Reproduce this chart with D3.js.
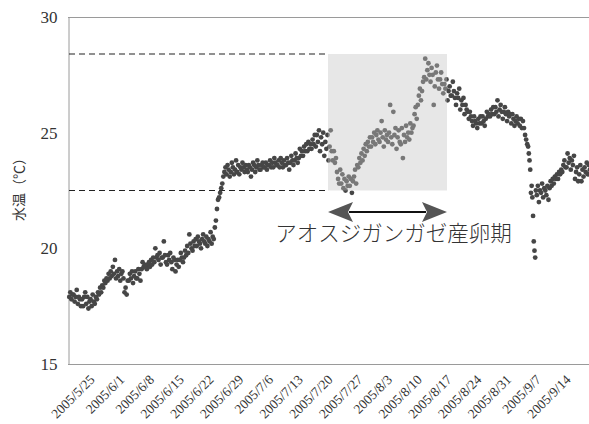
<!DOCTYPE html>
<html>
<head>
<meta charset="utf-8">
<script src="https://cdn.jsdelivr.net/npm/d3@7"></script>
<style>
  html, body { margin: 0; padding: 0; background: #fff; }
  svg { display: block; }
</style>
</head>
<body>
<svg id="chart" width="589" height="424"></svg>
<script>
// Water temperature readings, four per day, starting 2005/5/20
const firstDay = "2005-05-20";
const dailyTemps = [
  [17.9, 18.1, 17.8, 18.0], [18.0, 17.7, 17.9, 18.2], [17.6, 17.9, 17.8, 17.5],
  [17.8, 17.5, 17.9, 18.1], [17.6, 17.9, 17.4, 17.7],
  // 5/25
  [17.8, 17.5, 18.0, 17.7], [17.6, 17.9, 17.8, 18.1], [18.0, 18.3, 18.1, 18.4],
  [18.3, 18.6, 18.5, 18.7], [18.6, 18.9, 18.7, 19.0], [18.8, 19.2, 18.9, 19.5],
  [18.7, 19.0, 18.8, 19.1],
  // 6/1
  [18.6, 18.9, 19.0, 18.7], [18.1, 18.3, 18.0, 18.6], [18.6, 18.9, 18.7, 19.0],
  [18.5, 18.8, 19.0, 18.7], [18.7, 19.1, 18.9, 18.6], [19.1, 19.4, 19.2, 19.3],
  [19.2, 19.1, 19.3, 19.4],
  // 6/8
  [19.2, 19.5, 19.3, 19.6], [19.4, 20.0, 19.6, 19.7], [19.5, 19.8, 19.3, 19.6],
  [19.6, 20.3, 19.7, 19.4], [19.3, 19.7, 19.5, 19.8], [19.4, 19.1, 19.6, 19.5],
  [19.0, 19.3, 19.5, 19.2],
  // 6/15
  [19.5, 19.8, 19.6, 19.4], [19.6, 19.9, 19.7, 20.1], [19.8, 20.6, 20.2, 20.0],
  [19.9, 20.3, 20.1, 20.4], [20.1, 20.5, 20.3, 20.2], [20.0, 20.4, 20.6, 20.3],
  [20.2, 20.5, 20.1, 20.4],
  // 6/22
  [20.3, 20.7, 20.2, 20.5], [20.4, 20.9, 21.2, 21.7], [22.1, 22.2, 22.4, 22.6],
  [22.8, 23.1, 23.3, 23.5], [23.2, 23.6, 23.4, 23.1], [23.3, 23.7, 23.5, 23.2],
  [23.4, 23.8, 23.3, 23.6],
  // 6/29
  [23.2, 23.5, 23.4, 23.7], [23.5, 23.3, 23.6, 23.4], [23.3, 23.6, 23.5, 23.1],
  [23.4, 23.7, 23.6, 23.3], [23.5, 23.8, 23.6, 23.4], [23.4, 23.6, 23.7, 23.5],
  [23.5, 23.7, 23.4, 23.6],
  // 7/6
  [23.6, 23.8, 23.5, 23.7], [23.5, 23.9, 23.7, 23.6], [23.6, 23.8, 23.5, 23.9],
  [23.7, 23.5, 23.8, 23.6], [23.6, 23.9, 23.7, 23.4], [23.7, 24.0, 23.8, 23.6],
  [23.8, 24.1, 23.9, 23.7],
  // 7/13
  [23.9, 24.3, 24.0, 24.2], [24.0, 24.4, 24.2, 24.5], [24.2, 24.6, 24.3, 24.5],
  [24.3, 24.7, 24.5, 24.9], [24.4, 24.9, 24.6, 25.1], [24.2, 24.8, 24.5, 25.0],
  [24.0, 24.6, 24.3, 24.9],
  // 7/20
  [23.8, 24.4, 25.1, 24.2], [23.8, 24.2, 23.7, 23.9], [23.3, 23.0, 22.8, 23.4],
  [22.8, 23.2, 22.6, 23.0], [22.5, 22.9, 22.7, 23.1], [22.7, 23.0, 22.4, 22.9],
  [23.1, 23.4, 22.8, 23.6],
  // 7/27
  [23.5, 23.9, 23.7, 24.1], [23.8, 24.3, 24.0, 24.5], [24.2, 24.6, 24.4, 24.8],
  [24.4, 24.8, 24.6, 25.0], [24.5, 24.9, 25.1, 24.7], [24.6, 25.0, 25.5, 24.8],
  [24.4, 25.1, 24.7, 24.9],
  // 8/3
  [24.6, 25.0, 26.2, 24.8], [24.5, 25.9, 24.9, 25.2], [24.3, 24.8, 25.1, 24.6],
  [24.5, 25.2, 23.9, 24.9], [24.6, 25.3, 24.8, 25.0], [24.7, 25.4, 25.0, 25.2],
  [25.3, 25.8, 26.1, 25.6],
  // 8/10
  [26.2, 26.6, 26.9, 26.4], [26.8, 27.2, 27.4, 28.2], [27.3, 27.7, 28.0, 27.5],
  [27.2, 27.8, 27.5, 26.2], [27.0, 27.6, 27.9, 27.3], [26.9, 27.3, 27.6, 27.1],
  [26.7, 27.1, 26.9, 27.3],
  // 8/17
  [26.4, 26.8, 27.0, 26.6], [26.6, 27.2, 26.8, 26.5], [26.2, 26.7, 26.5, 26.9],
  [26.0, 26.4, 26.2, 26.5], [25.8, 26.2, 26.0, 25.9], [25.6, 25.9, 25.7, 25.5],
  [25.3, 25.7, 25.5, 25.4],
  // 8/24
  [25.2, 25.6, 25.4, 25.7], [25.4, 25.7, 25.5, 25.3], [25.6, 25.9, 25.7, 25.8],
  [25.7, 26.0, 25.8, 26.1], [25.8, 26.1, 25.9, 26.4], [25.7, 26.0, 26.2, 25.9],
  [25.6, 25.9, 26.1, 25.8],
  // 8/31
  [25.5, 25.9, 25.7, 25.8], [25.4, 25.8, 25.6, 25.3], [25.5, 25.7, 25.4, 25.6],
  [25.3, 25.6, 25.2, 25.5], [25.2, 24.9, 24.7, 24.5],
  [24.4, 24.1, 23.8, 23.4, 22.4, 22.7],
  [22.2, 21.4, 20.3, 19.9, 19.6, 22.5],
  // 9/7
  [22.3, 22.7, 22.0, 22.5], [22.4, 22.8, 22.2, 22.6], [22.5, 22.3, 22.7, 22.1],
  [22.6, 22.9, 22.7, 23.0], [22.8, 23.1, 23.0, 23.2], [23.0, 23.3, 23.2, 23.4],
  [23.3, 23.6, 23.8, 23.5],
  // 9/14
  [23.5, 24.1, 23.7, 23.9], [23.4, 23.8, 23.6, 24.0], [23.0, 23.3, 23.5, 22.9],
  [23.2, 23.6, 22.9, 23.4], [23.1, 23.5, 23.3, 23.7], [23.2, 23.6, 23.4, 23.3]
];

const tickDates = [
  "2005-05-25", "2005-06-01", "2005-06-08", "2005-06-15", "2005-06-22",
  "2005-06-29", "2005-07-06", "2005-07-13", "2005-07-20", "2005-07-27",
  "2005-08-03", "2005-08-10", "2005-08-17", "2005-08-24", "2005-08-31",
  "2005-09-07", "2005-09-14"
];
const yTickValues = [15, 20, 25, 30];
const yDomain = [15, 30];

// Spawning season band and its temperature range
const spawnPeriod = ["2005-07-20", "2005-08-17"];
const spawnTempRange = [22.5, 28.4];
const spawnLabel = "アオスジガンガゼ産卵期";
const yTitle = "水温（℃）";

const parseDay = d3.timeParse("%Y-%m-%d");

// Expand each day's readings into evenly spaced timestamps
const day0 = parseDay(firstDay);
const readings = [];
dailyTemps.forEach((temps, i) => {
  const day = d3.timeDay.offset(day0, i);
  temps.forEach((t, j) => {
    const minutes = Math.round(((j + 0.5) / temps.length) * 24 * 60);
    readings.push({ date: d3.timeMinute.offset(day, minutes), temp: t });
  });
});

const svg = d3.select("#chart");
const plot = { left: 68, right: 589, top: 17, bottom: 364 };

const x = d3.scaleTime()
  .domain([parseDay(tickDates[0]), parseDay(tickDates[tickDates.length - 1])])
  .range([90, 566]);
const y = d3.scaleLinear().domain(yDomain).range([plot.bottom, plot.top]);

const serif = "'Liberation Serif', 'DejaVu Serif', serif";
const cjk = "'Noto Sans CJK JP', 'Noto Sans CJK SC', sans-serif";

// Plot frame: top rule, left axis and baseline
svg.append("line")
  .attr("x1", plot.left).attr("x2", plot.right)
  .attr("y1", plot.top + 0.5).attr("y2", plot.top + 0.5)
  .attr("stroke", "#9a9a9a").attr("stroke-width", 1);

const yAxis = svg.append("g")
  .attr("transform", `translate(${plot.left + 0.5},0)`)
  .call(d3.axisLeft(y).tickValues(yTickValues).tickSize(0).tickPadding(11));
yAxis.select(".domain").attr("stroke", "#9a9a9a");
yAxis.selectAll("text")
  .attr("font-family", serif).attr("font-size", 17).attr("fill", "#333");

const xAxis = svg.append("g")
  .attr("transform", `translate(0,${plot.bottom + 0.5})`)
  .call(d3.axisBottom(x).tickValues(tickDates.map(parseDay)).tickSize(0)
    .tickFormat(d3.timeFormat("%Y/%-m/%-d")));
xAxis.select(".domain")
  .attr("d", `M${plot.left},0H${plot.right}`)
  .attr("stroke", "#9a9a9a");
xAxis.selectAll("text")
  .attr("font-family", serif).attr("font-size", 13.5).attr("fill", "#333")
  .attr("text-anchor", "end")
  .attr("y", 0).attr("dy", 0)
  .attr("transform", "translate(5,16) rotate(-45)");

// Y axis title, vertical
svg.append("text")
  .attr("transform", "translate(24,186) rotate(-90)")
  .attr("text-anchor", "middle")
  .attr("font-family", cjk).attr("font-size", 14).attr("fill", "#333")
  .text(yTitle);

// Dashed guides at the spawning temperature limits
const bandX0 = x(parseDay(spawnPeriod[0]));
const bandX1 = x(parseDay(spawnPeriod[1]));
svg.selectAll("line.guide")
  .data(spawnTempRange)
  .join("line")
  .attr("class", "guide")
  .attr("x1", plot.left + 1).attr("x2", bandX0)
  .attr("y1", d => y(d)).attr("y2", d => y(d))
  .attr("stroke", "#222").attr("stroke-width", 1.1)
  .attr("stroke-dasharray", "6,4");

// Temperature readings
svg.append("g")
  .selectAll("circle")
  .data(readings)
  .join("circle")
  .attr("cx", d => x(d.date))
  .attr("cy", d => y(d.temp))
  .attr("r", 2.4)
  .attr("fill", "#464646");

// Translucent band over the spawning season
svg.append("rect")
  .attr("x", bandX0)
  .attr("y", y(spawnTempRange[1]))
  .attr("width", bandX1 - bandX0)
  .attr("height", y(spawnTempRange[0]) - y(spawnTempRange[1]))
  .attr("fill", "rgb(196,196,196)")
  .attr("fill-opacity", 0.4);

// Double-headed arrow spanning the season
const arrowY = 212;
const head = 25, halfH = 10, notch = 5;
const arrow = svg.append("g");
arrow.append("line")
  .attr("x1", bandX0 + head - 4).attr("x2", bandX1 - head + 4)
  .attr("y1", arrowY).attr("y2", arrowY)
  .attr("stroke", "#111").attr("stroke-width", 2.2);
arrow.append("path")
  .attr("d", `M${bandX0},${arrowY} L${bandX0 + head},${arrowY - halfH} L${bandX0 + head - notch},${arrowY} L${bandX0 + head},${arrowY + halfH} Z`)
  .attr("fill", "#555");
arrow.append("path")
  .attr("d", `M${bandX1},${arrowY} L${bandX1 - head},${arrowY - halfH} L${bandX1 - head + notch},${arrowY} L${bandX1 - head},${arrowY + halfH} Z`)
  .attr("fill", "#555");

svg.append("text")
  .attr("x", (bandX0 + bandX1) / 2 + 6)
  .attr("y", 241)
  .attr("text-anchor", "middle")
  .attr("font-family", cjk).attr("font-size", 21.5).attr("font-weight", 300)
  .attr("fill", "#333")
  .text(spawnLabel);
</script>
</body>
</html>
